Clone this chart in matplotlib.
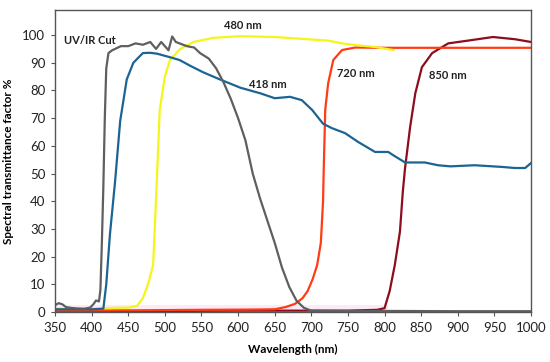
#!/usr/bin/env python3
# transmission curves of the filters

import matplotlib
matplotlib.use("Agg")
import matplotlib.pyplot as plt

MY_DPI = 100

# UV/IR cut filter
uvir_wl = [350, 355, 360, 365, 372, 380, 390, 398, 403, 406, 410, 412, 414, 416, 418, 420, 423, 428,
           440, 450, 460, 470, 480, 488, 495, 500, 505, 510, 515, 520, 530, 540, 548, 560, 570, 580,
           590, 600, 610, 620, 630, 640, 650, 660, 670, 680, 690, 700, 750, 800, 900, 1000]
uvir_t = [2.5, 3.2, 2.8, 1.8, 1.5, 1.3, 1.2, 1.6, 3.0, 4.2, 3.8, 8, 25, 45, 70, 88, 93.5, 94.5,
          96, 96, 97, 96.5, 97.5, 95, 97.5, 96, 94.5, 99.5, 97.5, 97, 96, 95.5, 93.5, 91.5, 88, 83,
          77, 70, 62, 50, 41, 33, 25, 16, 9, 4, 1.5, 0.5, 0.4, 0.4, 0.3, 0.3]

# 418 nm long pass
lp418_wl = [350, 400, 416, 420, 425, 432, 439, 448, 457, 470, 480, 489, 507, 520, 534, 552, 575,
            603, 630, 650, 671, 687, 701, 716, 728, 746, 764, 787, 805, 812, 828, 855, 873, 890,
            923, 960, 978, 992, 1000]
lp418_t = [1.0, 1.0, 1.2, 10, 28, 47, 69, 84, 90, 93.5, 93.6, 93.3, 92, 91, 89, 86.6, 84,
           81, 79, 77.2, 77.7, 76.5, 73, 68, 66.4, 64.6, 61.4, 57.8, 57.8, 56.6, 54, 54, 53, 52.6,
           53, 52.4, 52, 52, 53.8]

# 480 nm long pass
lp480_wl = [350, 400, 450, 462, 470, 477, 484, 487, 489, 493, 500, 507, 521, 539, 566, 603, 650,
            695, 723, 742, 760, 787, 812]
lp480_t = [1.2, 1.3, 1.6, 2.2, 5, 10, 17, 35, 47.6, 73, 85, 91, 95, 97.5, 99, 99.6, 99.3,
           98.5, 98, 97, 96.4, 95.7, 94.6]

# 720 nm long pass
lp720_wl = [350, 450, 550, 620, 650, 665, 678, 688, 695, 702, 708, 713, 716, 717, 719, 723, 730,
            742, 760, 800, 900, 1000]
lp720_t = [0.5, 0.6, 0.8, 0.9, 1.0, 1.8, 3, 5, 7.6, 12, 17, 25, 40, 52, 73, 82.6, 91,
           94.6, 95.5, 95.4, 95.4, 95.4]

# 850 nm long pass
lp850_wl = [350, 500, 600, 700, 750, 790, 800, 807, 814, 821, 825, 828, 835, 842, 851, 865, 887,
            914, 948, 978, 1000]
lp850_t = [0.3, 0.4, 0.5, 0.5, 0.5, 0.8, 1.4, 7.6, 17, 29, 43.7, 52, 67, 79, 88.4, 93.5, 97,
           98, 99.3, 98.5, 97.5]

labels = ["UV/IR Cut", "480 nm", "418 nm", "720 nm", "850 nm"]
label_pos = [(398, 98), (607, 103.5), (641, 82), (761, 86), (887, 85.5)]

plt.rcParams['font.family'] = ['Lato', 'DejaVu Sans']

fig = plt.figure(figsize=(550 / MY_DPI, 362 / MY_DPI), dpi=MY_DPI)
ax = fig.add_axes([0.1, 0.138, 0.8655, 0.834])

# faint pink band along the bottom (scan artefact of the original)
ax.axhspan(0, 2.5, xmin=0, xmax=0.7, color='#fdeaf8', zorder=0, lw=0)

ax.plot(lp850_wl, lp850_t, color='#8b0d1e', lw=1.6)
ax.plot(lp720_wl, lp720_t, color='#ff3c14', lw=1.6)
ax.plot(lp480_wl, lp480_t, color='#f5f51a', lw=1.6)
ax.plot(lp418_wl, lp418_t, color='#1b6494', lw=1.6)
ax.plot(uvir_wl, uvir_t, color='#5f5f5f', lw=1.6)

for txt, (x, y) in zip(labels, label_pos):
    ax.text(x, y, txt, fontsize=8, fontweight='bold', ha='center', va='center', color='#222222')

ax.set_xlim(350, 1000)
ax.set_ylim(0, 109)
ax.set_xticks(range(350, 1001, 50))
ax.set_yticks(range(0, 101, 10))
ax.tick_params(direction='out', length=3, width=0.8, labelsize=9.5, colors='#555555',
               labelcolor='#222222', pad=4)
for sp in ax.spines.values():
    sp.set_color('#555555')
    sp.set_linewidth(1.0)

ax.set_xlabel("Wavelength (nm)", fontsize=8.5, fontweight='bold', labelpad=7)
ax.set_ylabel("Spectral transmittance factor %", fontsize=8.5, fontweight='bold', labelpad=6)

plt.savefig("out.png", dpi=MY_DPI)
